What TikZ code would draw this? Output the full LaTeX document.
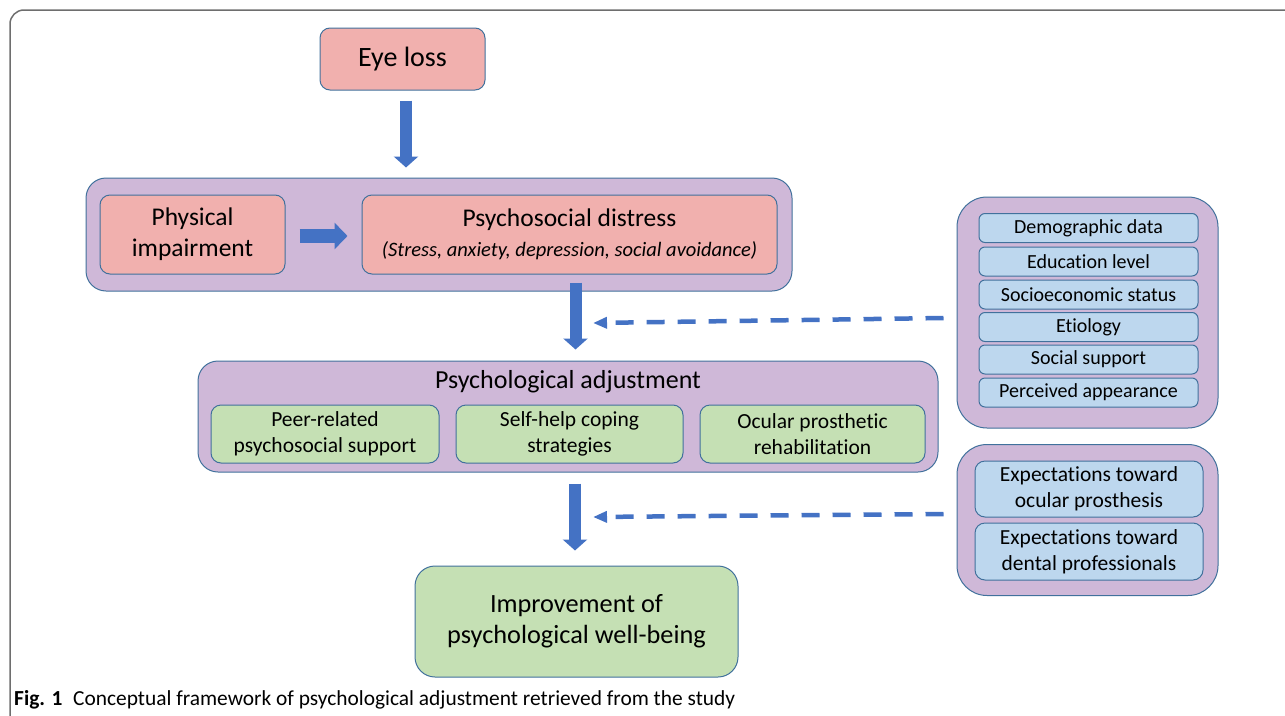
\documentclass[tikz,border=0pt]{standalone}
\usepackage{fontspec}
\setmainfont{Carlito}[Ligatures=NoCommon]
\usetikzlibrary{arrows.meta,calc}
\definecolor{pinkf}{HTML}{F1B0AE}
\definecolor{purplef}{HTML}{CFB8D8}
\definecolor{greenf}{HTML}{C5E0B4}
\definecolor{bluef}{HTML}{BDD7EE}
\definecolor{bordc}{HTML}{41719C}
\definecolor{arrowc}{HTML}{4472C4}
\definecolor{framec}{HTML}{6E6E6E}
\newcommand{\fsz}[2]{\fontsize{#1}{#2}\selectfont}
\tikzset{
  box/.style={draw=bordc, line width=1pt, rounded corners=10pt, align=center, inner sep=0pt, text=black},
  pinkbox/.style={box, fill=pinkf},
  greenbox/.style={box, fill=greenf},
  bluebox/.style={box, fill=bluef, rounded corners=6pt},
  container/.style={box, fill=purplef, rounded corners=20pt},
  blockarrow/.style={line width=12pt, arrowc, -{Triangle[width=24pt,length=11pt]}},
  blockarrowh/.style={line width=14pt, arrowc, -{Triangle[width=26pt,length=13pt]}},
  dasharrow/.style={line width=4.5pt, arrowc, dash pattern=on 18pt off 13pt, -{Triangle[width=11pt,length=14pt]}},
  mid/.style={font=\fsz{21.5}{26}},
  small/.style={font=\fsz{20}{24}},
  exp/.style={font=\fsz{21.5}{26}},
}
\begin{document}
\begin{tikzpicture}[x=1pt,y=-1pt]
\useasboundingbox (0,0) rectangle (1285,715);
% frame
\draw[framec, line width=1.5pt, rounded corners=14pt] (10,720) -- (10,10) -- (1295,10);

% top part
\node[pinkbox, font=\fsz{28}{33}, minimum width=165pt, minimum height=62pt] (eye) at (402.5,59) {Eye loss};
\node[container, minimum width=706pt, minimum height=113pt] (top) at (439,234.5) {};
\node[pinkbox, font=\fsz{25.5}{31}, minimum width=185pt, minimum height=79pt] (phys) at (192.5,234.5) {Physical\\impairment};
\node[pinkbox, font=\fsz{25.5}{30}, minimum width=415pt, minimum height=79pt] (dist) at (569.5,234.5) {Psychosocial distress\\{\fsz{20.5}{30}\itshape (Stress, anxiety, depression, social avoidance)}};

% adjustment
\node[container, minimum width=740pt, minimum height=111pt] (adj) at (568,416.5) {};
\node[inner sep=0pt, font=\fsz{26}{30}] (adjt) at (568,382) {Psychological adjustment};
\node[greenbox, mid, minimum width=228pt, minimum height=58pt] (g1) at (325,434) {Peer-related\\psychosocial support};
\node[greenbox, mid, minimum width=227pt, minimum height=58pt] (g2) at (569.5,434) {Self-help coping\\strategies};
\node[greenbox, mid, minimum width=225pt, minimum height=58pt] (g3) at (812.5,434) {Ocular prosthetic\\rehabilitation};

% outcome
\node[greenbox, font=\fsz{26.3}{31}, rounded corners=20pt, minimum width=323pt, minimum height=111pt] (imp) at (576.5,621.5) {Improvement of\\psychological well-being};

% right container 1
\node[container, rounded corners=30pt, minimum width=261pt, minimum height=231pt] (rc1) at (1087.5,312.5) {};
\node[bluebox, small, minimum width=219pt, minimum height=29pt] (r1) at (1088.5,228) {Demographic data};
\node[bluebox, small, minimum width=219pt, minimum height=29pt] (r2) at (1088.5,261.5) {Education level};
\node[bluebox, small, minimum width=219pt, minimum height=29pt] (r3) at (1088.5,294.5) {Socioeconomic status};
\node[bluebox, small, minimum width=219pt, minimum height=29pt] (r4) at (1088.5,327) {Etiology};
\node[bluebox, small, minimum width=219pt, minimum height=29pt] (r5) at (1088.5,359.5) {Social support};
\node[bluebox, small, minimum width=219pt, minimum height=29pt] (r6) at (1088.5,392.5) {Perceived appearance};

% right container 2
\node[container, rounded corners=30pt, minimum width=261pt, minimum height=151pt] (rc2) at (1087.5,520) {};
\node[bluebox, exp, rounded corners=10pt, minimum width=228pt, minimum height=56pt] (e1) at (1089,489) {Expectations toward\\ocular prosthesis};
\node[bluebox, exp, rounded corners=10pt, minimum width=228pt, minimum height=57pt] (e2) at (1089,551.5) {Expectations toward\\dental professionals};

% block arrows
\draw[blockarrow] ([xshift=3.5pt,yshift=-10pt]eye.south) -- ([xshift=3.5pt,yshift=10pt]eye.south |- top.north);
\draw[blockarrowh] ([xshift=14pt,yshift=-1.5pt]phys.east) -- ([xshift=-14pt,yshift=-1.5pt]dist.west |- phys.east);
\draw[blockarrow] ([xshift=6pt,yshift=9pt]dist.south |- top.south) -- ([xshift=6pt,yshift=11pt]dist.south |- adj.north);
\draw[blockarrow] ([xshift=7pt,yshift=-11pt]adj.south) -- ([xshift=7pt,yshift=15pt]adj.south |- imp.north);

% dashed arrows
\coordinate (d1) at (593,323);
\coordinate (d2) at (593,517);
\draw[dasharrow] ([xshift=-13pt,yshift=-5.5pt]rc1.west) -- (d1);
\draw[dasharrow] ([xshift=-13pt,yshift=6pt]rc2.west) -- (d2);

% caption
\node[anchor=base west, inner sep=0pt, font=\fsz{21.4}{25}] (cap) at (14,705) {\textbf{Fig. 1}\hspace{0.5em}Conceptual framework of psychological adjustment retrieved from the study};
\end{tikzpicture}
\end{document}
